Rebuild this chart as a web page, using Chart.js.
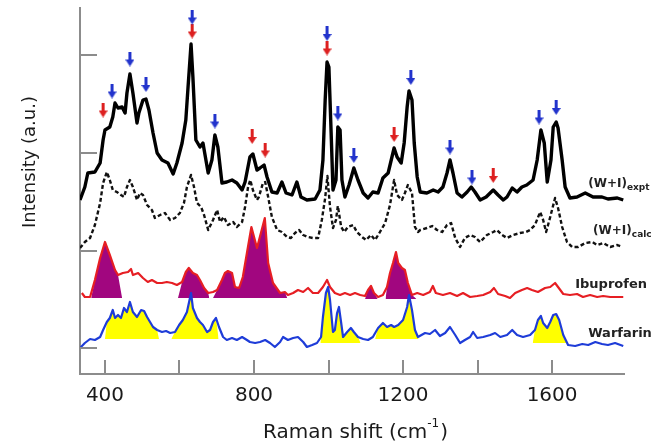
<!DOCTYPE html>
<html><head><meta charset="utf-8">
<script src="https://cdn.jsdelivr.net/npm/chart.js@4.4.1/dist/chart.umd.min.js"></script>
<style>html,body{margin:0;padding:0;background:#fff;}#wrap{width:656px;height:441px;}</style>
</head><body><div id="wrap"><canvas id="c" width="656" height="441"></canvas></div>
<script>
// Raman shift (cm-1), intensity (a.u., offset traces)
const exptSpectrum = [[333,148],[346,161],[354,175],[373,176],[387,185],[395,208],[400,218],[413,221],[421,231],[427,245],[435,240],[446,241],[454,235],[459,255],[467,274],[475,255],[486,225],[491,235],[502,248],[510,249],[518,238],[529,215],[540,195],[553,188],[569,185],[583,174],[593,185],[607,205],[617,228],[623,261],[631,304],[636,271],[644,208],[655,201],[663,205],[677,175],[687,188],[695,213],[703,201],[714,165],[727,166],[741,168],[754,165],[768,158],[776,166],[789,191],[797,194],[808,178],[816,180],[827,183],[835,171],[848,156],[862,155],[875,166],[886,155],[902,153],[915,166],[926,151],[942,148],[964,149],[977,158],[985,188],[991,248],[996,286],[1001,281],[1007,215],[1012,158],[1020,168],[1025,221],[1031,218],[1036,168],[1044,151],[1055,163],[1068,180],[1079,168],[1093,155],[1106,150],[1119,156],[1133,155],[1146,170],[1160,175],[1176,200],[1184,191],[1195,185],[1203,205],[1211,241],[1216,257],[1224,248],[1230,205],[1238,171],[1246,156],[1264,155],[1281,158],[1294,156],[1307,161],[1318,175],[1326,188],[1334,175],[1345,155],[1358,151],[1372,156],[1383,161],[1393,156],[1407,148],[1423,151],[1442,158],[1455,153],[1469,148],[1479,151],[1493,160],[1506,156],[1519,161],[1532,163],[1549,168],[1560,188],[1570,218],[1579,205],[1587,166],[1597,188],[1603,221],[1611,226],[1616,220],[1627,188],[1635,161],[1648,150],[1667,151],[1689,155],[1710,151],[1734,151],[1750,149],[1775,150],[1791,148]];

const calcSpectrum = [[333,100],[346,106],[360,110],[373,123],[387,145],[395,165],[405,176],[413,168],[421,158],[432,156],[443,153],[451,151],[459,161],[467,168],[475,161],[486,148],[494,155],[502,153],[513,143],[526,138],[534,130],[548,133],[561,135],[575,128],[588,130],[601,135],[612,145],[620,161],[631,173],[639,161],[647,145],[658,141],[666,133],[677,118],[690,128],[701,138],[709,126],[719,131],[730,123],[744,126],[754,121],[768,126],[776,141],[784,161],[790,168],[797,158],[808,148],[813,151],[824,165],[830,166],[838,151],[848,131],[862,118],[875,116],[889,111],[899,110],[910,115],[921,118],[932,113],[945,111],[958,110],[972,110],[982,128],[991,150],[997,172],[1004,141],[1012,120],[1020,128],[1025,142],[1034,121],[1042,116],[1052,121],[1066,123],[1076,116],[1090,111],[1101,108],[1114,113],[1125,108],[1138,116],[1152,125],[1165,143],[1176,168],[1184,153],[1197,148],[1205,155],[1213,163],[1224,155],[1232,121],[1240,116],[1246,118],[1264,120],[1278,122],[1291,118],[1305,116],[1318,123],[1329,125],[1340,110],[1353,101],[1366,110],[1380,113],[1393,111],[1407,106],[1425,113],[1442,116],[1452,118],[1466,113],[1479,110],[1495,113],[1514,115],[1530,116],[1541,118],[1554,123],[1568,136],[1576,128],[1584,116],[1595,131],[1608,150],[1616,140],[1627,121],[1640,106],[1654,101],[1670,101],[1689,105],[1708,106],[1721,103],[1737,105],[1756,101],[1775,103],[1788,101]];

const ibuprofenSpectrum = [[338,55],[346,51],[360,51],[373,68],[387,90],[400,106],[413,93],[427,78],[435,73],[448,75],[462,76],[470,79],[475,73],[489,75],[502,70],[515,66],[526,68],[540,65],[553,65],[566,66],[580,65],[593,63],[607,66],[617,76],[625,80],[636,75],[647,73],[655,68],[666,60],[677,55],[690,56],[701,58],[714,68],[722,75],[730,77],[741,75],[749,61],[760,60],[770,71],[781,95],[793,121],[808,100],[829,130],[838,85],[851,65],[870,55],[883,56],[891,53],[905,55],[918,58],[932,56],[945,60],[958,55],[972,55],[985,61],[996,68],[1004,61],[1017,55],[1031,53],[1044,55],[1058,53],[1071,55],[1085,53],[1098,52],[1106,58],[1114,62],[1122,55],[1133,51],[1146,53],[1157,61],[1165,75],[1173,85],[1181,96],[1187,85],[1197,80],[1205,78],[1213,65],[1224,53],[1238,55],[1254,53],[1272,56],[1280,62],[1288,55],[1307,53],[1326,55],[1345,52],[1361,55],[1380,51],[1399,52],[1415,53],[1434,56],[1444,60],[1455,54],[1474,52],[1487,50],[1501,55],[1519,58],[1533,60],[1546,58],[1562,56],[1581,60],[1595,61],[1608,65],[1616,61],[1630,54],[1648,53],[1667,54],[1683,51],[1702,53],[1721,51],[1737,52],[1756,51],[1775,51],[1791,51]];

const warfarinSpectrum = [[333,0],[346,5],[360,9],[373,8],[387,11],[395,18],[405,26],[413,30],[421,38],[427,30],[435,33],[443,30],[451,40],[459,36],[467,46],[475,36],[486,31],[497,38],[505,37],[513,31],[521,26],[529,21],[540,18],[553,16],[564,17],[575,15],[588,16],[599,23],[609,28],[620,36],[631,55],[636,40],[647,30],[655,26],[663,23],[674,16],[682,18],[690,26],[698,30],[706,21],[717,11],[727,8],[741,10],[754,8],[768,11],[781,8],[789,6],[803,5],[816,6],[830,8],[843,5],[856,1],[870,6],[878,11],[891,8],[905,10],[918,11],[932,6],[942,1],[956,3],[969,5],[980,11],[985,31],[993,55],[999,61],[1004,48],[1012,16],[1017,18],[1023,35],[1028,41],[1034,25],[1039,11],[1050,16],[1060,20],[1068,16],[1079,11],[1093,9],[1106,8],[1119,11],[1133,20],[1146,25],[1157,21],[1168,23],[1176,21],[1187,23],[1200,28],[1211,41],[1216,53],[1224,38],[1232,18],[1240,11],[1259,15],[1272,14],[1286,18],[1299,12],[1313,15],[1326,21],[1340,13],[1353,5],[1366,8],[1380,11],[1388,16],[1399,10],[1415,11],[1434,13],[1447,15],[1461,11],[1479,13],[1493,18],[1506,13],[1522,11],[1541,13],[1554,18],[1562,28],[1570,32],[1576,25],[1587,20],[1595,26],[1603,33],[1611,34],[1619,28],[1630,13],[1643,3],[1662,2],[1681,4],[1697,3],[1716,6],[1734,4],[1750,3],[1769,5],[1791,2]];

// highlighted bands: [start, end, base level]
const ibuprofenBands = [[363,446,50],[596,680,50],[690,889,50],[1098,1132,49],[1153,1236,49]];
const warfarinBands = [[400,545,9],[578,705,9],[978,1086,5],[1125,1242,9],[1548,1642,5]];

// assigned peak markers [shift, level]
const warfarinMarks = [[419,257],[467,289],[510,263.5],[634,331],[695,227],[996,314.5],[1025,235],[1068,192.5],[1221,270.5],[1326,201],[1385,171],[1565,231],[1611,240.5]];
const ibuprofenMarks = [[395,238],[634,317],[795,211.5],[830,198],[996,300],[1176,213.5],[1442,172.5]];

const xTickValues = [400,600,800,1000,1200,1400,1600];
const xLabelValues = [400,800,1200,1600];
const yTickValues = [0,97.5,195,292.5];

const traceLabels = [
  {main:'(W+I)', sub:'expt', x:1697, y:161, size:12},
  {main:'(W+I)', sub:'calc', x:1710, y:114, size:12},
  {main:'Ibuprofen', sub:'', x:1662, y:60, size:13},
  {main:'Warfarin', sub:'', x:1697, y:11, size:13}
];

const toXY = arr => arr.map(p => ({x:p[0], y:p[1]}));
function band(series, b){
  const pts = [{x:b[0], y:b[2]}];
  series.forEach(p => { if (p[0] > b[0] && p[0] < b[1]) pts.push({x:p[0], y:p[1]}); });
  pts.push({x:b[1], y:b[2]});
  return pts;
}
function arrowImg(color){
  const c = document.createElement('canvas');
  c.width = 9; c.height = 15;
  const g = c.getContext('2d');
  g.fillStyle = color;
  g.fillRect(3, 0, 3, 9);
  g.beginPath(); g.moveTo(0, 8); g.lineTo(9, 8); g.lineTo(4.5, 15); g.closePath(); g.fill();
  return c;
}

const MAGENTA = '#a1067f', YELLOW = '#ffff00', RED = '#e61e23', BLUE = '#1e3cd8';
const datasets = [];
ibuprofenBands.forEach(b => datasets.push({data: band(ibuprofenSpectrum, b), borderWidth:0, pointRadius:0, backgroundColor:MAGENTA, fill:{value:b[2]}, order:10}));
warfarinBands.forEach(b => datasets.push({data: band(warfarinSpectrum, b), borderWidth:0, pointRadius:0, backgroundColor:YELLOW, fill:{value:b[2]}, order:10}));
datasets.push({data: toXY(warfarinSpectrum), borderColor:BLUE, borderWidth:2.2, pointRadius:0, fill:false, order:3});
datasets.push({data: toXY(ibuprofenSpectrum), borderColor:RED, borderWidth:2.2, pointRadius:0, fill:false, order:3});
datasets.push({data: toXY(calcSpectrum), borderColor:'#111', borderWidth:2.4, borderDash:[4,2.5], pointRadius:0, fill:false, order:2});
datasets.push({data: toXY(exptSpectrum), borderColor:'#000', borderWidth:3.4, pointRadius:0, fill:false, order:1});
datasets.push({data: toXY(warfarinMarks), showLine:false, pointStyle:arrowImg('#2233cc'), pointRadius:5, order:0});
datasets.push({data: toXY(ibuprofenMarks), showLine:false, pointStyle:arrowImg('#dd2020'), pointRadius:5, order:0});

const decor = {
  id:'decor',
  afterDraw(chart){
    const {ctx, scales:{x, y}} = chart;
    const bottom = chart.chartArea.bottom, left = chart.chartArea.left;
    ctx.save();
    ctx.strokeStyle = '#8c8c8c'; ctx.lineWidth = 2;
    xTickValues.forEach(v => { const px = Math.round(x.getPixelForValue(v)); ctx.beginPath(); ctx.moveTo(px, bottom); ctx.lineTo(px, bottom - 14); ctx.stroke(); });
    yTickValues.forEach(v => { const py = Math.round(y.getPixelForValue(v)); ctx.beginPath(); ctx.moveTo(left, py); ctx.lineTo(left + 17, py); ctx.stroke(); });
    // axis titles
    ctx.fillStyle = '#1a1a1a';
    ctx.save();
    ctx.translate(35, 162); ctx.rotate(-Math.PI/2);
    ctx.font = '18px "DejaVu Sans"'; ctx.textAlign = 'center'; ctx.textBaseline = 'alphabetic';
    ctx.fillText('Intensity (a.u.)', 0, 0);
    ctx.restore();
    ctx.textAlign = 'left'; ctx.textBaseline = 'alphabetic';
    const f1 = '20px "DejaVu Sans"', f2 = '12px "DejaVu Sans"';
    ctx.font = f1; const w1 = ctx.measureText('Raman shift (cm').width, w3 = ctx.measureText(')').width;
    ctx.font = f2; const w2 = ctx.measureText('-1').width;
    let sx = (left + chart.chartArea.right)/2 + 3 - (w1 + w2 + w3)/2;
    ctx.font = f1; ctx.fillText('Raman shift (cm', sx, 438);
    ctx.font = f2; ctx.fillText('-1', sx + w1, 427);
    ctx.font = f1; ctx.fillText(')', sx + w1 + w2 + 1, 438);
    // trace labels
    ctx.fillStyle = '#222';
    traceLabels.forEach(l => {
      const px = x.getPixelForValue(l.x), py = y.getPixelForValue(l.y);
      ctx.font = 'bold ' + l.size + 'px "DejaVu Sans"';
      ctx.fillText(l.main, px, py);
      if (l.sub){ const w = ctx.measureText(l.main).width; ctx.font = 'bold 9px "DejaVu Sans"'; ctx.fillText(l.sub, px + w, py + 3); }
    });
    ctx.restore();
  }
};

new Chart(document.getElementById('c').getContext('2d'), {
  type:'line',
  data:{datasets},
  options:{
    responsive:false, animation:false,
    layout:{padding:{top:8, right:32, left:0, bottom:0}},
    plugins:{legend:{display:false}, tooltip:{enabled:false}},
    elements:{line:{tension:0, borderJoinStyle:'round'}},
    scales:{
      x:{type:'linear', min:333, max:1793,
        afterFit: s => { s.height = 67; },
        afterBuildTicks: s => { s.ticks = xTickValues.map(v => ({value:v})); },
        grid:{display:false, drawTicks:false},
        border:{display:true, color:'#8c8c8c', width:2},
        ticks:{padding:10, autoSkip:false, maxRotation:0, color:'#1a1a1a', font:{family:'DejaVu Sans', size:20},
          callback: v => xLabelValues.includes(v) ? String(v) : ''}
      },
      y:{type:'linear', min:-26, max:340,
        afterFit: s => { s.width = 80; },
        afterBuildTicks: s => { s.ticks = yTickValues.map(v => ({value:v})); },
        grid:{display:false, drawTicks:false},
        border:{display:true, color:'#8c8c8c', width:2},
        ticks:{display:false}
      }
    }
  },
  plugins:[decor]
});
</script></body></html>
